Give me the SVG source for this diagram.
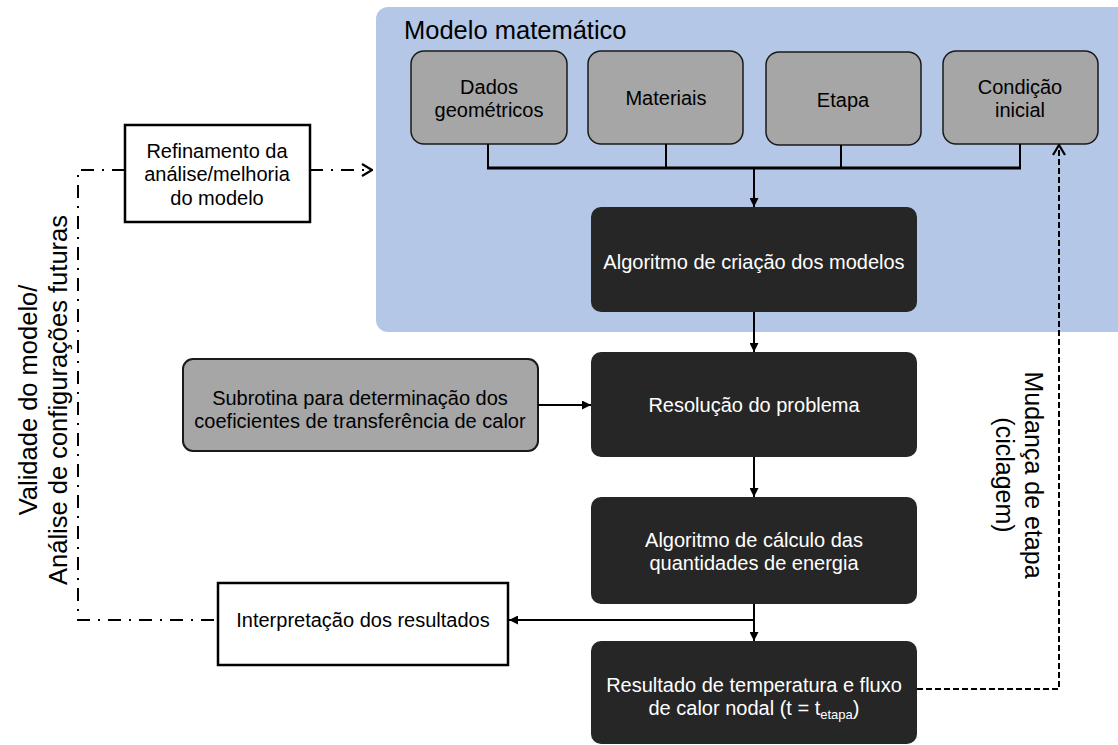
<svg xmlns="http://www.w3.org/2000/svg" width="1118" height="745" viewBox="0 0 1118 745">
<style>
text{font-family:"Liberation Sans",Arial,sans-serif;}
.t{font-size:20px;fill:#000;text-anchor:middle;}
.w{font-size:20px;fill:#fff;text-anchor:middle;}
.g{fill:#a6a6a6;stroke:#1a1a1a;stroke-width:1.5;}
.d{fill:#262626;}
.b{fill:#fff;stroke:#000;stroke-width:2.5;}
.ln{fill:none;stroke:#000;stroke-width:2;}
.dd{fill:none;stroke:#000;stroke-width:2;stroke-dasharray:13 8 2 8;}
.da{fill:none;stroke:#000;stroke-width:2;stroke-dasharray:6 3;}
</style>
<defs>
<marker id="fa" viewBox="0 0 10 10" refX="10" refY="5" markerWidth="9" markerHeight="9" markerUnits="userSpaceOnUse" orient="auto">
<path d="M0,0 L10,5 L0,10 z" fill="#000"/>
</marker>
<marker id="oa" viewBox="0 0 12 14" refX="11" refY="7" markerWidth="12" markerHeight="14" markerUnits="userSpaceOnUse" orient="auto">
<path d="M1,1 L11,7 L1,13" fill="none" stroke="#000" stroke-width="2.2"/>
</marker>
</defs>

<g id="panel">
<rect x="376" y="7" width="760" height="325" rx="12" fill="#b4c7e7"/>
<text x="404" y="39" style="font-size:25.5px">Modelo matemático</text>
</g>

<g id="dados">
<rect class="g" x="411" y="51" width="156" height="93" rx="13"/>
<text class="t" x="489" y="94">Dados</text>
<text class="t" x="489" y="117">geométricos</text>
</g>
<g id="materiais">
<rect class="g" x="588" y="51" width="155" height="93" rx="13"/>
<text class="t" x="666" y="105">Materiais</text>
</g>
<g id="etapa">
<rect class="g" x="766" y="52" width="155" height="93" rx="13"/>
<text class="t" x="843" y="107">Etapa</text>
</g>
<g id="condicao">
<rect class="g" x="943" y="51" width="155" height="93" rx="13"/>
<text class="t" x="1020" y="94">Condição</text>
<text class="t" x="1020" y="117">inicial</text>
</g>

<g id="algoritmo-criacao">
<rect class="d" x="591" y="207" width="326" height="105" rx="10"/>
<text class="w" x="754" y="269">Algoritmo de criação dos modelos</text>
</g>
<g id="resolucao">
<rect class="d" x="591" y="352" width="326" height="105" rx="10"/>
<text class="w" x="754" y="412">Resolução do problema</text>
</g>
<g id="algoritmo-calculo">
<rect class="d" x="591" y="497" width="326" height="107" rx="10"/>
<text class="w" x="754" y="547">Algoritmo de cálculo das</text>
<text class="w" x="754" y="570">quantidades de energia</text>
</g>
<g id="resultado">
<rect class="d" x="591" y="641" width="326" height="103" rx="10"/>
<text class="w" x="754" y="692">Resultado de temperatura e fluxo</text>
<text class="w" x="754" y="715">de calor nodal (t = t<tspan style="font-size:13px" dy="4">etapa</tspan><tspan dy="-4">)</tspan></text>
</g>

<g id="subrotina">
<rect class="g" x="183" y="359" width="355" height="92" rx="10" style="stroke-width:2"/>
<text class="t" x="360" y="405">Subrotina para determinação dos</text>
<text class="t" x="360" y="428">coeficientes de transferência de calor</text>
</g>

<g id="refinamento">
<rect class="b" x="125" y="125" width="185" height="97"/>
<text class="t" x="217" y="158">Refinamento da</text>
<text class="t" x="217" y="181">análise/melhoria</text>
<text class="t" x="217" y="205">do modelo</text>
</g>

<g id="interpretacao">
<rect class="b" x="218" y="583" width="290" height="82"/>
<text class="t" x="363" y="627">Interpretação dos resultados</text>
</g>

<g id="labels">
<text transform="translate(37,400) rotate(-90)" text-anchor="middle" style="font-size:25.5px">Validade do modelo/</text>
<text transform="translate(67,400) rotate(-90)" text-anchor="middle" style="font-size:25.5px">Análise de configurações futuras</text>
<text transform="translate(1025,475) rotate(90)" text-anchor="middle" style="font-size:25px">Mudança de etapa</text>
<text transform="translate(996,475) rotate(90)" text-anchor="middle" style="font-size:25px">(ciclagem)</text>
</g>

<g id="connectors">
<path class="ln" d="M488,144 V168 M666,144 V168 M841,145 V168 M1020,144 V168"/>
<path class="ln" d="M487,168 H1021" style="stroke-width:3"/>
<path class="ln" d="M754,168 V207" marker-end="url(#fa)"/>
<path class="ln" d="M754,312 V352" marker-end="url(#fa)"/>
<path class="ln" d="M754,457 V497" marker-end="url(#fa)"/>
<path class="ln" d="M754,604 V641" marker-end="url(#fa)"/>
<path class="ln" d="M754,620 H509" marker-end="url(#fa)"/>
<path class="ln" d="M538,405 H591" marker-end="url(#fa)"/>
<path class="dd" d="M310,170 H372" marker-end="url(#oa)"/>
<path class="dd" d="M125,170 H78 V620 H218"/>
<path class="da" d="M917,689 H1059 V145" marker-end="url(#oa)"/>
</g>
</svg>
